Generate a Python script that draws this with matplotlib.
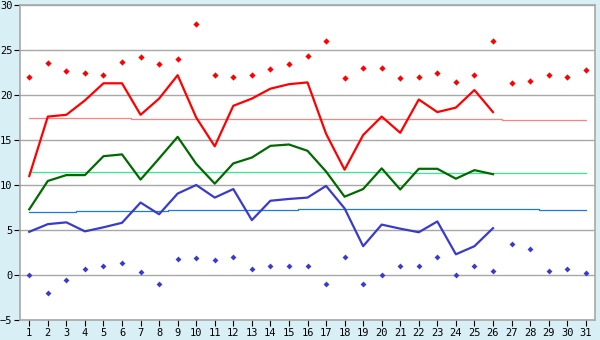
import numpy as np
from matplotlib import pyplot as plt

days = list(range(1, 32))

# record highs / lows (diamonds)
record_max = [22.0, 23.6, 22.7, 22.4, 22.2, 23.7, 24.2, 23.4, 24.0, 27.85,
              22.2, 22.0, 22.2, 22.85, 23.5, 24.3, 26.0, 21.85, 22.95, 22.95,
              21.85, 22.0, 22.5, 21.5, 22.2, 26.0, 21.3, 21.6, 22.2, 22.0, 22.75]
record_min = [0.0, -2.0, -0.6, 0.65, 1.0, 1.3, 0.3, -1.0, 1.75, 1.85,
              1.65, 1.95, 0.65, 1.05, 1.0, 1.0, -1.0, 1.95, -1.0, 0.0,
              1.0, 1.0, 1.95, 0.0, 1.05, 0.4, 3.4, 2.85, 0.5, 0.65, 0.2]

# this month (days 1-26)
tmax = [11.0, 17.6, 17.8, 19.4, 21.3, 21.3, 17.8, 19.6, 22.2, 17.5,
        14.3, 18.8, 19.6, 20.7, 21.2, 21.4, 15.7, 11.7, 15.55, 17.6,
        15.8, 19.5, 18.1, 18.6, 20.55, 18.1]
tmean = [7.3, 10.45, 11.1, 11.1, 13.2, 13.4, 10.6, 12.95, 15.35, 12.35,
         10.15, 12.4, 13.05, 14.35, 14.5, 13.8, 11.5, 8.7, 9.55, 11.85,
         9.5, 11.8, 11.8, 10.7, 11.65, 11.2]
tmin = [4.8, 5.65, 5.85, 4.85, 5.3, 5.8, 8.05, 6.75, 9.05, 10.0,
        8.6, 9.55, 6.1, 8.25, 8.45, 8.6, 9.9, 7.4, 3.2, 5.6,
        5.15, 4.75, 5.95, 2.3, 3.2, 5.2]

# normals
norm_max = [17.4] * 6 + [17.3] * 20 + [17.2] * 5
norm_mean = [11.5] * 8 + [11.4] * 13 + [11.3] * 10
norm_min = [7.0] * 3 + [7.1] * 5 + [7.2] * 7 + [7.3] * 13 + [7.2] * 3

bg = '#d8eff6'
fig = plt.figure(figsize=(6, 3.4), dpi=100, facecolor=bg)
ax = fig.add_axes([20 / 600, 1 - 320 / 340, 575 / 600, 315 / 340])
ax.set_facecolor('white')

ax.set_ylim(-5, 30)
ax.set_xlim(0.5, 31.5)
ax.set_yticks(np.arange(-5, 31, 5))
ax.set_xticks(days)
ax.grid(axis='y', color='#a8a8a8', linewidth=1.0)
ax.set_axisbelow(True)

for s in ax.spines.values():
    s.set_color('#a8a8a8')
    s.set_linewidth(1.2)

ax.tick_params(axis='both', colors='#000000', labelsize=7.5, length=4,
               width=0.8, pad=1.5)
for lab in ax.get_xticklabels() + ax.get_yticklabels():
    lab.set_family('DejaVu Sans Mono')

d = days[:len(tmax)]
ax.plot(days, norm_max, color='#ff8080', lw=0.9, drawstyle='steps-mid')
ax.plot(days, norm_mean, color='#33ee88', lw=0.9, drawstyle='steps-mid')
ax.plot(days, norm_min, color='#1a7ae0', lw=0.9, drawstyle='steps-mid')

ax.plot(d, tmax, color='#ff0000', lw=1.6)
ax.plot(d, tmean, color='#006a00', lw=1.6)
ax.plot(d, tmin, color='#3a3acc', lw=1.6)

ax.plot(days, record_max, 'D', color='#ff0000', ms=3.2, mew=0)
ax.plot(days, record_min, 'D', color='#3a3acc', ms=3.0, mew=0)

plt.savefig('out.png', dpi=100, facecolor=bg)
